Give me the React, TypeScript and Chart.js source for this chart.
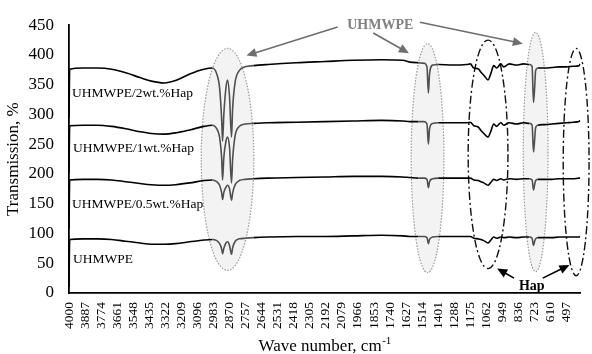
import React, { useEffect, useRef } from "react";
import { Chart, registerables } from "chart.js";

Chart.register(...registerables);

const WAVENUMBERS = [4000, 3995, 3900, 3800, 3700, 3600, 3500, 3420, 3330, 3250, 3150, 3050, 2990, 2960, 2940, 2925, 2919, 2910, 2895, 2884, 2870, 2856, 2848, 2830, 2800, 2760, 2700, 2600, 2400, 2200, 2000, 1800, 1650, 1600, 1540, 1500, 1480, 1470, 1462, 1440, 1400, 1300, 1200, 1175, 1150, 1120, 1100, 1080, 1050, 1030, 1010, 990, 960, 940, 900, 850, 800, 760, 740, 730, 722, 715, 700, 650, 600, 550, 500, 450, 410, 402];

const HAP_2WT = [294, 376, 378, 378, 376, 370, 362, 356, 353, 357, 368, 376, 378, 368, 345, 290, 255, 300, 345, 358, 330, 262, 310, 355, 374, 380, 382, 384, 387, 389, 391, 392, 391, 388, 387, 386, 380, 336, 368, 383, 384, 383, 384, 385, 378, 377, 371, 366, 358, 369, 382, 378, 385, 380, 385, 383, 385, 384, 381, 320, 345, 374, 378, 378, 379, 380, 380, 381, 382, 385];

const HAP_1WT = [201, 281, 282, 282, 280, 276, 271, 268, 267, 269, 274, 280, 282, 276, 262, 225, 190, 228, 255, 262, 245, 185, 225, 265, 280, 284, 285, 286, 287, 288, 289, 290, 289, 288, 288, 288, 284, 250, 276, 285, 286, 286, 286, 287, 281, 279, 273, 268, 262, 272, 284, 280, 286, 282, 286, 284, 286, 285, 282, 237, 258, 278, 282, 283, 284, 285, 286, 287, 288, 290];

const HAP_05WT = [108, 190, 191, 191, 190, 187, 184, 182, 181, 182, 185, 189, 190, 187, 181, 168, 157, 169, 178, 181, 175, 156, 168, 182, 189, 191, 192, 193, 194, 195, 196, 196, 195, 194, 193, 193, 191, 177, 187, 192, 193, 193, 193, 193, 190, 189, 187, 185, 181, 186, 191, 189, 192, 190, 192, 191, 192, 192, 190, 173, 182, 189, 191, 191, 191, 192, 192, 192, 193, 193];

const UHMWPE = [10, 90, 91, 91, 90, 87, 84, 82, 82, 83, 86, 89, 90, 88, 83, 74, 66, 75, 84, 86, 80, 65, 76, 87, 91, 92, 93, 94, 95, 95, 96, 97, 96, 95, 95, 95, 93, 83, 90, 94, 95, 95, 95, 95, 92, 91, 90, 88, 84, 89, 94, 92, 94, 93, 94, 93, 94, 94, 92, 80, 87, 91, 93, 93, 93, 94, 94, 94, 94, 95];

const SERIES_NAMES = ["UHMWPE/2wt.%Hap", "UHMWPE/1wt.%Hap", "UHMWPE/0.5wt.%Hap", "UHMWPE"];
const SERIES_VALUES = [HAP_2WT, HAP_1WT, HAP_05WT, UHMWPE];
// label anchor (wavenumber, transmission) for each series name
const LABEL_X = [3979, 3972, 3979, 3972];
const LABEL_Y = [329, 237, 142, 51];

const X_TICKS = Array.from({ length: 32 }, (_, i) => 4000 - 113 * i);
const Y_TICKS = [0, 50, 100, 150, 200, 250, 300, 350, 400, 450];

// highlighted bands (wavenumber ranges) drawn in grey
const GREY_BANDS = [
  [2700, 3000],
  [1420, 1520],
  [690, 760],
];

// ellipses: center wavenumber, half-width (cm-1), top value, bottom value
const GREY_ELLIPSES = [
  [2884, 185, 411, 38],
  [1476, 115, 419, 34],
  [715, 87, 438, 36],
];
const DASH_ELLIPSES = [
  [1050, 140, 425, 41],
  [430, 91, 411, 29],
];

// arrows: [x1, y1, x2, y2] in data units
const GREY_ARROWS = [
  [2109, 447, 2751, 399],
  [1858, 437, 1607, 403],
  [1530, 455, 805, 419],
];
const HAP_ARROWS = [
  [867, 25, 986, 41],
  [665, 25, 477, 47],
];

const FONT = "'Liberation Serif', 'Times New Roman', serif";

function drawArrow(ctx: CanvasRenderingContext2D, x1: number, y1: number, x2: number, y2: number, color: string) {
  const ang = Math.atan2(y2 - y1, x2 - x1);
  const headLen = 10;
  const headW = 4.5;
  ctx.save();
  ctx.strokeStyle = color;
  ctx.fillStyle = color;
  ctx.lineWidth = 1.6;
  ctx.setLineDash([]);
  ctx.beginPath();
  ctx.moveTo(x1, y1);
  ctx.lineTo(x2 - Math.cos(ang) * headLen * 0.8, y2 - Math.sin(ang) * headLen * 0.8);
  ctx.stroke();
  ctx.beginPath();
  ctx.moveTo(x2, y2);
  ctx.lineTo(x2 - Math.cos(ang) * headLen + Math.sin(ang) * headW, y2 - Math.sin(ang) * headLen - Math.cos(ang) * headW);
  ctx.lineTo(x2 - Math.cos(ang) * headLen - Math.sin(ang) * headW, y2 - Math.sin(ang) * headLen + Math.cos(ang) * headW);
  ctx.closePath();
  ctx.fill();
  ctx.restore();
}

const annotationPlugin = {
  id: "ftirAnnotations",
  beforeDatasetsDraw(chart: any) {
    const { ctx } = chart;
    const xs = chart.scales.x;
    const ys = chart.scales.y;
    const ell = (e: number[]) => {
      const cx = xs.getPixelForValue(e[0]);
      const rx = Math.abs(xs.getPixelForValue(e[0] - e[1]) - cx);
      const top = ys.getPixelForValue(e[2]);
      const bot = ys.getPixelForValue(e[3]);
      return { cx, cy: (top + bot) / 2, rx, ry: (bot - top) / 2 };
    };
    ctx.save();
    GREY_ELLIPSES.forEach((e) => {
      const g = ell(e);
      ctx.beginPath();
      ctx.ellipse(g.cx, g.cy, g.rx, g.ry, 0, 0, Math.PI * 2);
      ctx.fillStyle = "#f3f3f3";
      ctx.fill();
      ctx.setLineDash([1.5, 1.5]);
      ctx.lineWidth = 1.2;
      ctx.strokeStyle = "#9a9a9a";
      ctx.stroke();
    });
    DASH_ELLIPSES.forEach((e) => {
      const g = ell(e);
      ctx.beginPath();
      ctx.ellipse(g.cx, g.cy, g.rx, g.ry, 0, 0, Math.PI * 2);
      ctx.setLineDash([8, 3, 2, 3]);
      ctx.lineWidth = 1.4;
      ctx.strokeStyle = "#111";
      ctx.stroke();
    });
    ctx.restore();
  },
  afterDraw(chart: any) {
    const { ctx, chartArea } = chart;
    const xs = chart.scales.x;
    const ys = chart.scales.y;
    const px = (v: number) => xs.getPixelForValue(v);
    const py = (v: number) => ys.getPixelForValue(v);
    ctx.save();
    // series labels
    ctx.font = `13.5px ${FONT}`;
    ctx.fillStyle = "#000";
    ctx.textAlign = "left";
    ctx.textBaseline = "alphabetic";
    SERIES_NAMES.forEach((n, i) => {
      ctx.fillText(n, px(LABEL_X[i]), py(LABEL_Y[i]));
    });
    // UHMWPE annotation
    GREY_ARROWS.forEach((a) => drawArrow(ctx, px(a[0]), py(a[1]), px(a[2]), py(a[3]), "#6e6e6e"));
    ctx.font = `bold 14px ${FONT}`;
    ctx.fillStyle = "#808080";
    ctx.textAlign = "center";
    ctx.textBaseline = "middle";
    ctx.fillText("UHMWPE", px(1809), py(450));
    // Hap annotation
    HAP_ARROWS.forEach((a) => drawArrow(ctx, px(a[0]), py(a[1]), px(a[2]), py(a[3]), "#000"));
    ctx.fillStyle = "#000";
    ctx.fillText("Hap", px(742), py(11));
    // x axis title with superscript
    const main = "Wave number, cm";
    const sup = "-1";
    ctx.font = `17px ${FONT}`;
    const w1 = ctx.measureText(main).width;
    ctx.font = `11px ${FONT}`;
    const w2 = ctx.measureText(sup).width;
    const cx = (chartArea.left + chartArea.right) / 2;
    const start = cx - (w1 + w2) / 2;
    const base = chart.height - 3;
    ctx.textAlign = "left";
    ctx.textBaseline = "alphabetic";
    ctx.font = `17px ${FONT}`;
    ctx.fillText(main, start, base);
    ctx.font = `11px ${FONT}`;
    ctx.fillText(sup, start + w1 + 0.5, base - 7);
    ctx.restore();
  },
};

function inGrey(a: number, b: number) {
  const m = (a + b) / 2;
  return GREY_BANDS.some((r) => m >= r[0] && m <= r[1]);
}

export default function App() {
  const ref = useRef<HTMLCanvasElement | null>(null);
  useEffect(() => {
    if (!ref.current) return;
    const chart = new Chart(ref.current, {
      type: "line",
      data: {
        datasets: SERIES_VALUES.map((vals, i) => ({
          label: SERIES_NAMES[i],
          data: WAVENUMBERS.map((x, j) => ({ x, y: vals[j] })),
          borderColor: "#000",
          borderWidth: 1.6,
          pointRadius: 0,
          fill: false,
          cubicInterpolationMode: "monotone" as const,
          segment: {
            borderColor: (c: any) => (inGrey(c.p0.parsed.x, c.p1.parsed.x) ? "#505050" : "#000"),
          },
        })),
      },
      options: {
        responsive: false,
        animation: false,
        layout: { padding: { top: 18, right: 7, left: 0, bottom: 0 } },
        plugins: {
          legend: { display: false },
          tooltip: { enabled: false },
          title: { display: false },
        },
        scales: {
          x: {
            type: "linear",
            reverse: true,
            min: 400,
            max: 4000,
            grid: { display: false, drawTicks: false },
            border: { display: true, color: "#000", width: 1.8 },
            afterBuildTicks: (s: any) => {
              s.ticks = X_TICKS.map((v) => ({ value: v }));
            },
            afterFit: (s: any) => {
              s.height = 61;
            },
            ticks: {
              autoSkip: false,
              minRotation: 90,
              maxRotation: 90,
              padding: 9,
              color: "#000",
              font: { family: FONT, size: 13.5 },
              callback: (v: any) => String(v),
            },
          },
          y: {
            type: "linear",
            min: 0,
            max: 450,
            grid: { display: false, drawTicks: false },
            border: { display: true, color: "#000", width: 1.8 },
            afterBuildTicks: (s: any) => {
              s.ticks = Y_TICKS.map((v) => ({ value: v }));
            },
            afterFit: (s: any) => {
              s.width = 69;
            },
            ticks: {
              padding: 15,
              color: "#000",
              font: { family: FONT, size: 17 },
              callback: (v: any) => String(v),
            },
            title: {
              display: true,
              text: "Transmission, %",
              color: "#000",
              font: { family: FONT, size: 17 },
              padding: { top: 3, bottom: 0 },
            },
          },
        },
      },
      plugins: [annotationPlugin],
    });
    return () => chart.destroy();
  }, []);
  return (
    <div style={{ position: "fixed", left: 0, top: 0, width: 592, height: 354, background: "#fff" }}>
      <canvas ref={ref} width={592} height={354} />
    </div>
  );
}
